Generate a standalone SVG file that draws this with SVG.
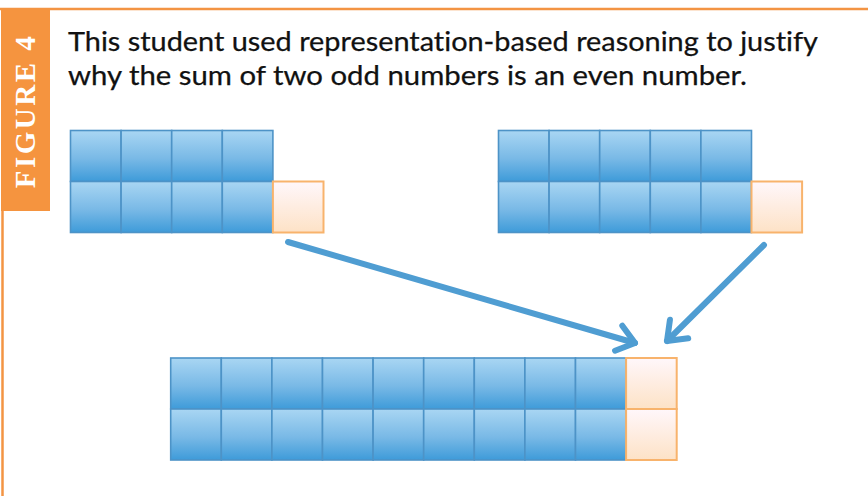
<svg xmlns="http://www.w3.org/2000/svg" width="868" height="496" viewBox="0 0 868 496">
  <defs>
    <linearGradient id="gBlue" x1="0" y1="0" x2="0" y2="1">
      <stop offset="0" stop-color="#a9d6f3"/>
      <stop offset="0.55" stop-color="#79b9e6"/>
      <stop offset="1" stop-color="#3e9bd9"/>
    </linearGradient>
    <linearGradient id="gOrange" x1="0" y1="0" x2="0" y2="1">
      <stop offset="0" stop-color="#fff7fb"/>
      <stop offset="1" stop-color="#fde2c6"/>
    </linearGradient>
    <marker id="chev" viewBox="-24 -20 30 40" markerWidth="30" markerHeight="40" refX="0" refY="0" orient="auto" markerUnits="userSpaceOnUse">
      <path d="M-17,-13 L0,0 L-17,13" fill="none" stroke="#4f9dd2" stroke-width="6" stroke-linecap="round" stroke-linejoin="round"/>
    </marker>
    <style>
      .b { fill: url(#gBlue); stroke: #4d93c7; stroke-width: 1.6; }
      .o { fill: url(#gOrange); stroke: #f8b36c; stroke-width: 2; }
      .title { font-family: Lato, "Open Sans", "Liberation Sans", sans-serif; font-size: 26.5px; fill: #111111; font-variant-ligatures: none; stroke: #111111; stroke-width: 0.25px; }
      .tab { font-family: "Liberation Serif", "DejaVu Serif", serif; font-weight: bold; font-size: 29px; fill: #ffffff; letter-spacing: 2.5px; }
      .arrow { fill: none; stroke: #4f9dd2; stroke-width: 6; stroke-linecap: round; }
    </style>
  </defs>

  <rect width="868" height="496" fill="#ffffff"/>

  <g id="frame">
    <line x1="0" y1="9" x2="868" y2="9" stroke="#f39443" stroke-width="2.5"/>
    <line x1="2.5" y1="9" x2="2.5" y2="496" stroke="#f39443" stroke-width="2.5"/>
    <rect x="1" y="9" width="49" height="202" fill="#f5943f"/>
    <text class="tab" transform="translate(35,111) rotate(-90)" text-anchor="middle">FIGURE 4</text>
  </g>

  <g id="title">
    <text class="title" x="68" y="51" textLength="750" lengthAdjust="spacingAndGlyphs">This student used representation-based reasoning to justify</text>
    <text class="title" x="68" y="84.5" textLength="679" lengthAdjust="spacingAndGlyphs">why the sum of two odd numbers is an even number.</text>
  </g>

  <g id="left-odd">
    <rect class="b" x="70.5" y="130.5" width="50.6" height="51"/>
    <rect class="b" x="121.1" y="130.5" width="50.6" height="51"/>
    <rect class="b" x="171.7" y="130.5" width="50.6" height="51"/>
    <rect class="b" x="222.3" y="130.5" width="50.6" height="51"/>
    <rect class="b" x="70.5" y="181.5" width="50.6" height="51"/>
    <rect class="b" x="121.1" y="181.5" width="50.6" height="51"/>
    <rect class="b" x="171.7" y="181.5" width="50.6" height="51"/>
    <rect class="b" x="222.3" y="181.5" width="50.6" height="51"/>
    <rect class="o" x="272.9" y="181.5" width="50.6" height="51"/>
  </g>

  <g id="right-odd">
    <rect class="b" x="498.5" y="130.5" width="50.6" height="51"/>
    <rect class="b" x="549.1" y="130.5" width="50.6" height="51"/>
    <rect class="b" x="599.7" y="130.5" width="50.6" height="51"/>
    <rect class="b" x="650.3" y="130.5" width="50.6" height="51"/>
    <rect class="b" x="700.9" y="130.5" width="50.6" height="51"/>
    <rect class="b" x="498.5" y="181.5" width="50.6" height="51"/>
    <rect class="b" x="549.1" y="181.5" width="50.6" height="51"/>
    <rect class="b" x="599.7" y="181.5" width="50.6" height="51"/>
    <rect class="b" x="650.3" y="181.5" width="50.6" height="51"/>
    <rect class="b" x="700.9" y="181.5" width="50.6" height="51"/>
    <rect class="o" x="751.5" y="181.5" width="50.6" height="51"/>
  </g>

  <g id="sum-even">
    <rect class="b" x="170.7" y="358" width="50.6" height="51"/>
    <rect class="b" x="221.3" y="358" width="50.6" height="51"/>
    <rect class="b" x="271.9" y="358" width="50.6" height="51"/>
    <rect class="b" x="322.5" y="358" width="50.6" height="51"/>
    <rect class="b" x="373.1" y="358" width="50.6" height="51"/>
    <rect class="b" x="423.7" y="358" width="50.6" height="51"/>
    <rect class="b" x="474.3" y="358" width="50.6" height="51"/>
    <rect class="b" x="524.9" y="358" width="50.6" height="51"/>
    <rect class="b" x="575.5" y="358" width="50.6" height="51"/>
    <rect class="o" x="626.1" y="358" width="50.6" height="51"/>
    <rect class="b" x="170.7" y="409" width="50.6" height="51"/>
    <rect class="b" x="221.3" y="409" width="50.6" height="51"/>
    <rect class="b" x="271.9" y="409" width="50.6" height="51"/>
    <rect class="b" x="322.5" y="409" width="50.6" height="51"/>
    <rect class="b" x="373.1" y="409" width="50.6" height="51"/>
    <rect class="b" x="423.7" y="409" width="50.6" height="51"/>
    <rect class="b" x="474.3" y="409" width="50.6" height="51"/>
    <rect class="b" x="524.9" y="409" width="50.6" height="51"/>
    <rect class="b" x="575.5" y="409" width="50.6" height="51"/>
    <rect class="o" x="626.1" y="409" width="50.6" height="51"/>
  </g>

  <g id="connectors">
    <path class="arrow" d="M288,242 L635,343" marker-end="url(#chev)"/>
    <path class="arrow" d="M764,245 L667,341" marker-end="url(#chev)"/>
  </g>
</svg>
